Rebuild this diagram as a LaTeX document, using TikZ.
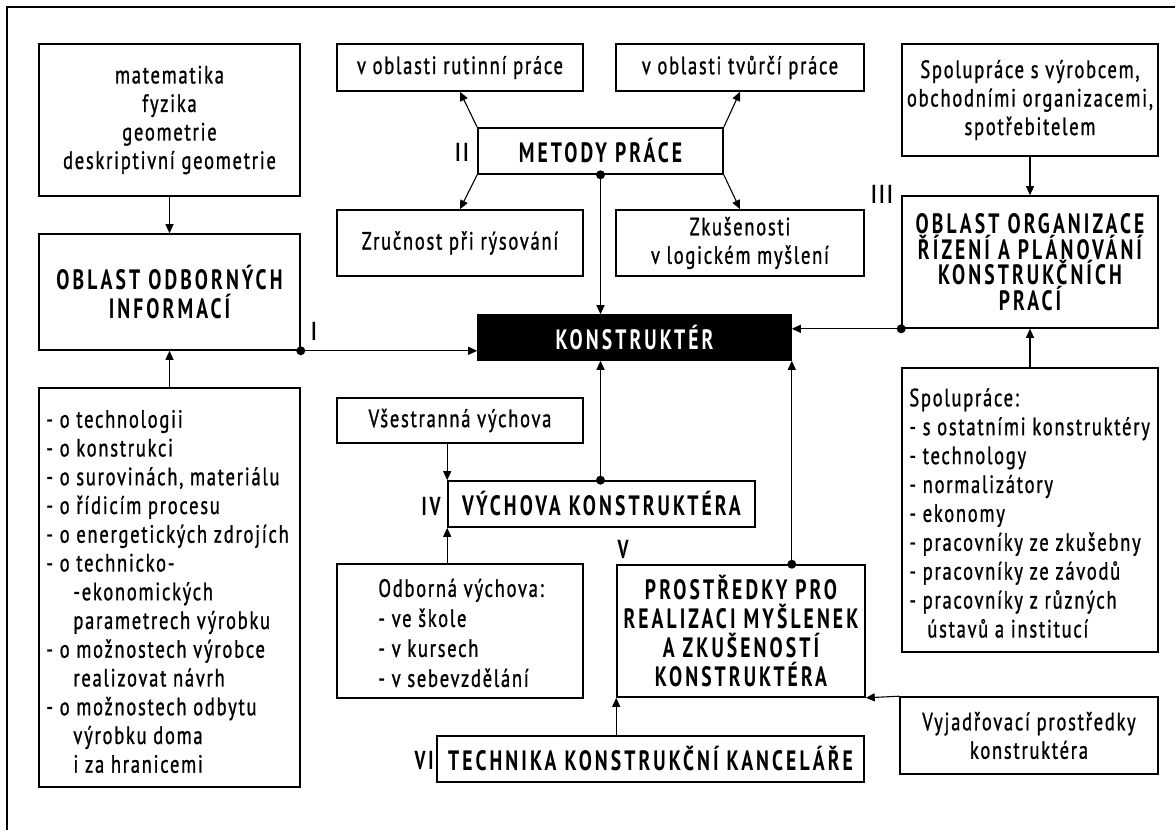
\documentclass[tikz,border=0pt]{standalone}
\usepackage{fontspec}
\setmainfont{PT Sans}[FakeStretch=0.74,LetterSpace=7,UprightFeatures={FakeBold=1.0},BoldFeatures={FakeStretch=0.70,LetterSpace=11}]
\usetikzlibrary{arrows.meta}
\tikzset{
  box/.style={draw, line width=1.6pt, inner sep=0pt, align=center,
    font={\fontsize{25}{28.5}\selectfont}},
  hbox/.style={box, font={\fontsize{28}{28}\selectfont\bfseries}},
  ltext/.style={inner sep=0pt, anchor=west, align=left},
  conn/.style={line width=1.1pt, -{Triangle[length=9pt,width=8pt]}},
  dot/.style={circle, fill=black, inner sep=0pt, minimum size=9pt},
  lab/.style={inner sep=0pt, font={\fontsize{26}{26}\selectfont\bfseries}},
}
\begin{document}
\begin{tikzpicture}[x=1pt,y=-1pt]
\useasboundingbox (0,0) rectangle (1175,830);
\fill[white] (0,0) rectangle (1175,830);
\draw[line width=2pt] (7,830) -- (7,7) -- (1175,7);

% left column
\node[box, minimum width=261, minimum height=152] (math) at (169.5,120)
  {matematika\\fyzika\\geometrie\\deskriptivní geometrie};
\node[hbox, minimum width=261, minimum height=116, font={\fontsize{28}{29}\selectfont\bfseries}] (ooi) at (169.5,292)
  {OBLAST ODBORNÝCH\\INFORMACÍ};
\node[box, minimum width=261, minimum height=399] (list) at (169.5,587.5) {};
\node[ltext, font={\fontsize{25}{28.75}\selectfont}] (listtext) at ([xshift=8pt,yshift=-4pt]list.west)
  {- o technologii\\
   - o konstrukci\\
   - o surovinách, materiálu\\
   - o řídicím procesu\\
   - o energetických zdrojích\\
   - o technicko-\\
   \hspace*{27pt}-ekonomických\\
   \hspace*{27pt}parametrech výrobku\\
   - o možnostech výrobce\\
   \hspace*{27pt}realizovat návrh\\
   - o možnostech odbytu\\
   \hspace*{27pt}výrobku doma\\
   \hspace*{27pt}i za hranicemi};

% top middle
\node[box, minimum width=246, minimum height=47] (rut) at (460,67.5) {v oblasti rutinní práce};
\node[box, minimum width=248, minimum height=47] (tvur) at (740,67.5) {v oblasti tvůrčí práce};
\node[hbox, minimum width=245, minimum height=46, font={\fontsize{28}{28}\selectfont\bfseries\addfontfeatures{LetterSpace=10}}] (met) at (600.5,151) {METODY PRÁCE};
\node[box, minimum width=246, minimum height=66] (zru) at (460,243) {Zručnost při rýsování};
\node[box, minimum width=248, minimum height=66] (zku) at (740,243) {Zkušenosti\\v logickém myšlení};
\node[hbox, minimum width=313, minimum height=45, fill=black, text=white] (kon) at (634.5,337.5) {KONSTRUKTÉR};

% right column
\node[box, minimum width=256, minimum height=112] (spv) at (1030,100)
  {Spolupráce s výrobcem,\\obchodními organizacemi,\\spotřebitelem};
\node[hbox, minimum width=256, minimum height=132, font={\fontsize{28}{25.5}\selectfont\bfseries}] (org) at (1030,262)
  {OBLAST ORGANIZACE\\ŘÍZENÍ A PLÁNOVÁNÍ\\KONSTRUKČNÍCH\\PRACÍ};
\node[box, minimum width=256, minimum height=284] (spl) at (1030,510) {};
\node[ltext, font={\fontsize{25}{28.9}\selectfont}] (spltext) at ([xshift=8pt,yshift=-3pt]spl.west)
  {Spolupráce:\\
   - s ostatními konstruktéry\\
   - technology\\
   - normalizátory\\
   - ekonomy\\
   - pracovníky ze zkušebny\\
   - pracovníky ze závodů\\
   - pracovníky z různých\\
   \hspace*{18pt}ústavů a institucí};
\node[box, minimum width=258, minimum height=77] (vyj) at (1029,735.5) {Vyjadřovací prostředky\\konstruktéra};

% bottom middle
\node[box, minimum width=246, minimum height=45] (vse) at (460,420.5) {Všestranná výchova};
\node[hbox, minimum width=307, minimum height=46] (vych) at (601.5,504) {VÝCHOVA KONSTRUKTÉRA};
\node[box, minimum width=246, minimum height=134] (odb) at (460,631) {};
\node[ltext, font={\fontsize{25}{30}\selectfont}] (odbtext) at ([xshift=42pt,yshift=-2pt]odb.west)
  {Odborná výchova:\\- ve škole\\- v kursech\\- v sebevzdělání};
\node[hbox, minimum width=248, minimum height=132, font={\fontsize{28}{29}\selectfont\bfseries}] (pro) at (741,631)
  {PROSTŘEDKY PRO\\REALIZACI MYŠLENEK\\A ZKUŠENOSTÍ\\KONSTRUKTÉRA};
\node[hbox, minimum width=427, minimum height=46, font={\fontsize{28}{28}\selectfont\bfseries\addfontfeatures{LetterSpace=6}}] (tech) at (650.5,759) {TECHNIKA KONSTRUKČNÍ KANCELÁŘE};

% roman labels
\node[lab] (l1) at (314,331) {I};
\node[lab] (l2) at (462,152) {II};
\node[lab] (l3) at (882,194) {III};
\node[lab] (l4) at (431,506) {IV};
\node[lab] (l5) at (623,549) {V};
\node[lab] (l6) at (424,760) {VI};

% dots
\node[dot] (d1) at (ooi.south east) {};
\node[dot] (d2) at (met.south) {};
\node[dot] (d3) at (org.south west) {};
\node[dot] (d4) at (met.south |- vych.north) {};
\node[dot] (d5) at (kon.south east |- pro.north) {};

% connectors
\draw[conn] (math.south) -- (ooi.north);
\draw[conn] (list.north) -- (ooi.south);
\draw[conn] (d1.center) -- (d1.center -| kon.west);
\draw[conn] (met.north west) -- (rut.south);
\draw[conn] (met.north east) -- (tvur.south);
\draw[conn] (met.south west) -- (zru.north);
\draw[conn] (met.south east) -- (zku.north);
\draw[conn] (d2.center) -- (d2.center |- kon.north);
\draw[conn] (spv.south) -- (org.north);
\draw[conn] (spl.north) -- (org.south);
\draw[conn] (d3.center) -- (d3.center -| kon.east);
\draw[conn] (vych.north west |- vse.south) -- (vych.north west);
\draw[conn] (vych.south west |- odb.north) -- (vych.south west);
\draw[conn] (d4.center) -- (d4.center |- kon.south);
\draw[conn] (d5.center) -- (d5.center |- kon.south);
\draw[conn] (pro.south west |- tech.north) -- (pro.south west);
\draw[conn] (vyj.north west) -- (pro.south east);
\end{tikzpicture}
\end{document}
